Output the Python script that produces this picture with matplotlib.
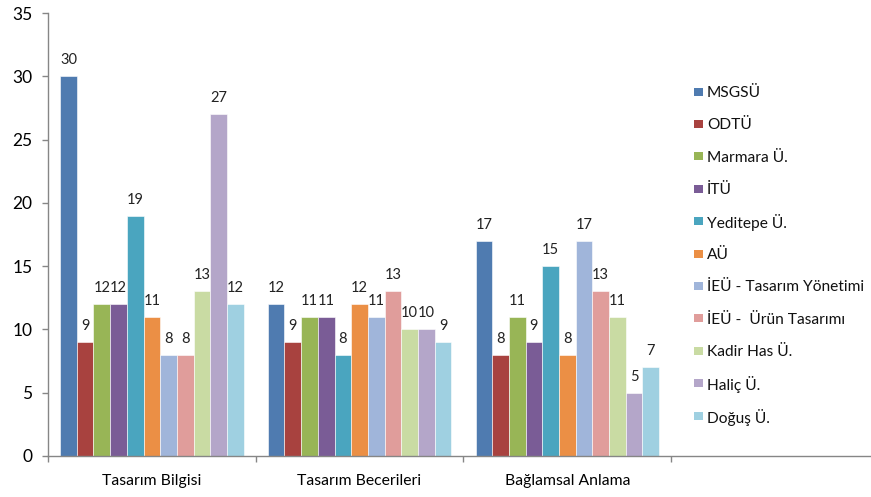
import matplotlib
matplotlib.use("Agg")
import matplotlib.pyplot as plt
from matplotlib.patches import Rectangle
import numpy as np

categories = ["Tasarım Bilgisi", "Tasarım Becerileri", "Bağlamsal Anlama"]
series_names = ["MSGSÜ", "ODTÜ", "Marmara Ü.", "İTÜ", "Yeditepe Ü.", "AÜ",
                "İEÜ - Tasarım Yönetimi", "İEÜ -  Ürün Tasarımı", "Kadir Has Ü.",
                "Haliç Ü.", "Doğuş Ü."]
values = {
    "MSGSÜ": [30, 12, 17],
    "ODTÜ": [9, 9, 8],
    "Marmara Ü.": [12, 11, 11],
    "İTÜ": [12, 11, 9],
    "Yeditepe Ü.": [19, 8, 15],
    "AÜ": [11, 12, 8],
    "İEÜ - Tasarım Yönetimi": [8, 11, 17],
    "İEÜ -  Ürün Tasarımı": [8, 13, 13],
    "Kadir Has Ü.": [13, 10, 11],
    "Haliç Ü.": [27, 10, 5],
    "Doğuş Ü.": [12, 9, 7],
}
colors = ["#4F7BB0", "#A8423F", "#98B556", "#7A5C96", "#4AA5BF", "#EB8F45",
          "#A0B5DA", "#E09D9B", "#C9DBA3", "#B4A6C9", "#9FD0E1"]
y_ticks = [0, 5, 10, 15, 20, 25, 30, 35]

plt.rcParams['font.family'] = ['Lato', 'DejaVu Sans']

W, H = 871, 497
fig = plt.figure(figsize=(W / 100, H / 100), dpi=100)
ax = fig.add_axes([48/W, 41/H, 823/W, 443/H])

n = len(series_names)
bw = 0.0803
x = np.arange(len(categories))
for i, name in enumerate(series_names):
    pos = x + (i - (n - 1) / 2) * bw
    ax.bar(pos, values[name], width=bw, color=colors[i],
           edgecolor="#ffffff", linewidth=0.4, label=name)
    for xp, v in zip(pos, values[name]):
        ax.annotate(str(v), (xp, v), xytext=(0, 11.5), textcoords="offset points",
                    ha="center", va="center", fontsize=10.5, color="#222222")

ax.set_ylim(0, 35)
ax.set_xlim(-0.5, -0.5 + 823/207.7)
ax.set_yticks(y_ticks)
ax.tick_params(axis='y', length=4.3, width=1, color="#868686", pad=7, labelsize=12.5)
ax.set_xticks([-0.5, 0.5, 1.5, 2.5])
ax.set_xticklabels([])
ax.tick_params(axis='x', which='major', length=4, width=1, color="#868686")
ax.set_xticks(x, minor=True)
ax.set_xticklabels(categories, minor=True)
ax.tick_params(axis='x', which='minor', length=0, pad=13, labelsize=11.3)
for s in ["top", "right"]:
    ax.spines[s].set_visible(False)
for s in ["left", "bottom"]:
    ax.spines[s].set_color("#868686")
    ax.spines[s].set_linewidth(1)

# manual legend with uniform row spacing
y0, step = 91.5, 32.4
for i, name in enumerate(series_names):
    yc = y0 + i * step
    fig.add_artist(Rectangle((694 / W, 1 - (yc + 4) / H), 9 / W, 8 / H,
                             transform=fig.transFigure, facecolor=colors[i],
                             edgecolor="none"))
    fig.text(707 / W, 1 - yc / H, name, ha="left", va="center_baseline",
             fontsize=11.2, color="#111111")

fig.savefig("out.png", dpi=100)
